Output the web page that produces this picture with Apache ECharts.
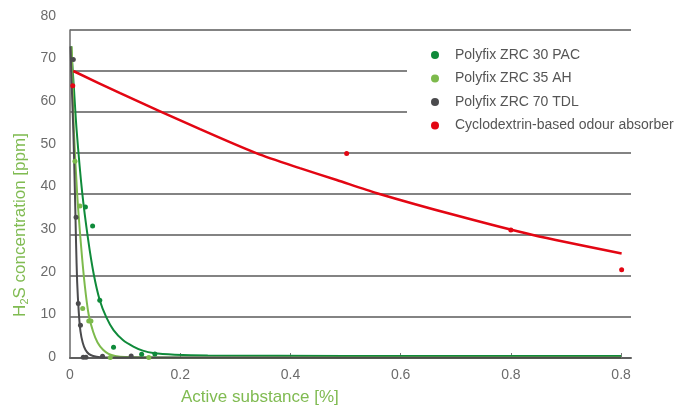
<!DOCTYPE html>
<html>
<head>
<meta charset="utf-8">
<script src="https://cdn.jsdelivr.net/npm/echarts@6/dist/echarts.min.js"></script>
<style>html,body{margin:0;padding:0;background:#fff}#c{width:689px;height:408px}</style>
</head>
<body>
<div id="c"></div>
<script>
// ---- data ----
const seriesNames = ['Polyfix ZRC 30 PAC', 'Polyfix ZRC 35 AH', 'Polyfix ZRC 70 TDL', 'Cyclodextrin-based odour absorber'];
const xTickValues = [0, 0.2, 0.4, 0.6, 0.8, 1.0];
const xTickLabels = ['0', '0.2', '0.4', '0.6', '0.8', '0.8'];
const yTickValues = [0, 10, 20, 30, 40, 50, 60, 70, 80];

// measured points [x, y]
const pac30Points = [[0.028, 36.8], [0.041, 32.2], [0.054, 14.1], [0.079, 2.6], [0.130, 0.9], [0.154, 1.0]];
const ah35Points = [[0.009, 48.0], [0.018, 37.1], [0.023, 12.1], [0.034, 9.0], [0.038, 9.0], [0.073, 0.1], [0.143, 0.1]];
const tdl70Points = [[0.006, 72.8], [0.011, 34.3], [0.015, 13.3], [0.019, 8.0], [0.024, 0.2], [0.029, 0.2], [0.059, 0.4], [0.111, 0.5]];
const cycloPoints = [[0.005, 66.4], [0.502, 49.9], [0.800, 31.2], [1.001, 21.5]];

// fitted trend curves [x, y]
const pac30Curve = [[0.002, 76], [0.007, 66], [0.012, 55.6], [0.022, 40.5], [0.033, 28.8], [0.043, 20.5], [0.054, 14.1], [0.066, 9.9], [0.079, 6.8], [0.096, 4.4], [0.115, 2.8], [0.132, 1.8], [0.151, 1.2], [0.19, 0.8], [0.25, 0.6], [0.5, 0.5], [1.0, 0.5]];
const ah35Curve = [[0.003, 76], [0.005, 66], [0.007, 55.6], [0.013, 40.0], [0.020, 27.5], [0.027, 17.5], [0.034, 10.5], [0.042, 6.4], [0.050, 3.8], [0.060, 2.0], [0.070, 1.0], [0.082, 0.5], [0.10, 0.25], [0.2, 0.15], [1.0, 0.15]];
const tdl70Curve = [[0.001, 76], [0.003, 67], [0.006, 55.6], [0.009, 40.0], [0.011, 28.0], [0.013, 18.5], [0.016, 11.0], [0.019, 6.5], [0.023, 3.8], [0.028, 2.0], [0.034, 1.0], [0.042, 0.5], [0.055, 0.2], [0.08, 0.1], [1.0, 0.05]];
const cycloCurve = [[0.006, 70.0], [0.091, 64.6], [0.236, 55.8], [0.339, 49.9], [0.417, 46.3], [0.484, 43.4], [0.557, 40.2], [0.700, 34.8], [0.840, 30.0], [1.001, 25.5]];

const colors = ['#0f8a3a', '#7dba4c', '#4b4b4d', '#e30613'];
const axisNameColor = '#80bb52';
const FONT = 'Liberation Sans, Arial, sans-serif';

const chart = echarts.init(document.getElementById('c'), null, {renderer: 'canvas'});
const pointSets = [pac30Points, ah35Points, tdl70Points, cycloPoints];
const curveSets = [pac30Curve, ah35Curve, tdl70Curve, cycloCurve];

const series = [];
curveSets.forEach((d, i) => {
  series.push({
    name: seriesNames[i], type: 'line', data: d, xAxisIndex: 0, yAxisIndex: 0,
    showSymbol: false, smooth: 0.25,
    lineStyle: {color: colors[i], width: i === 3 ? 2.5 : 2},
    itemStyle: {color: colors[i]}, z: 3, silent: true
  });
});
pointSets.forEach((d, i) => {
  series.push({
    name: seriesNames[i], type: 'scatter', data: d, xAxisIndex: 0, yAxisIndex: 0,
    symbol: 'circle', symbolSize: 5, itemStyle: {color: colors[i], opacity: 1}, z: 4
  });
});

chart.setOption({
  animation: false,
  textStyle: {fontFamily: FONT},
  color: colors,
  grid: [
    {left: 70, right: 58, top: 30, bottom: 50},
    {left: 70, right: 58, top: 16, bottom: 51}
  ],
  xAxis: [
    {
      type: 'value', gridIndex: 0, min: 0, max: 1.018,
      axisLine: {show: true, lineStyle: {color: '#5f5f5f', width: 2}},
      axisTick: {show: true, inside: true, length: 5, customValues: xTickValues.slice(1), lineStyle: {color: '#777', width: 1}},
      axisLabel: {
        customValues: xTickValues, color: '#6b6b6b', fontSize: 14, margin: 10, fontFamily: FONT,
        formatter: v => { const k = xTickValues.findIndex(t => Math.abs(t - v) < 1e-6); return k >= 0 ? xTickLabels[k] : ''; }
      },
      splitLine: {show: false}
    },
    {type: 'value', gridIndex: 1, min: 0, max: 1, show: false}
  ],
  yAxis: [
    {
      type: 'value', gridIndex: 0, min: 0, max: 80, interval: 10,
      axisLine: {show: true, lineStyle: {color: '#6a6a6a', width: 1.5}},
      axisTick: {show: false}, axisLabel: {show: false},
      splitLine: {show: true, lineStyle: {color: '#5a5a5a', width: 1.5}}
    },
    {
      type: 'value', gridIndex: 1, min: 0, max: 80, interval: 10,
      axisLine: {show: false}, axisTick: {show: false}, splitLine: {show: false},
      axisLabel: {color: '#6b6b6b', fontSize: 14, margin: 14, fontFamily: FONT}
    }
  ],
  legend: {
    data: seriesNames.map(n => ({name: n, icon: 'circle'})),
    orient: 'vertical', left: 407, top: 38,
    padding: [9, 12, 8, 24],
    backgroundColor: '#ffffff',
    itemWidth: 8, itemHeight: 8, itemGap: 7.5,
    textStyle: {color: '#555', fontSize: 14, fontFamily: FONT, lineHeight: 16, padding: [0, 0, 0, 11]},
    z: 10
  },
  graphic: [
    {
      type: 'text', x: 181, y: 397,
      style: {text: 'Active substance [%]', fill: axisNameColor, fontSize: 17, fontFamily: FONT, align: 'left', verticalAlign: 'middle'}
    },
    {
      type: 'text', x: 20, y: 225, rotation: Math.PI / 2,
      style: {
        text: '{a|H}{b|2}{a|S concentration [ppm]}',
        align: 'center', verticalAlign: 'middle',
        rich: {
          a: {fill: axisNameColor, fontSize: 17, fontFamily: FONT},
          b: {fill: axisNameColor, fontSize: 11, fontFamily: FONT, padding: [9, 0, 0, 0]}
        }
      }
    }
  ],
  series: series
});
</script>
</body>
</html>
